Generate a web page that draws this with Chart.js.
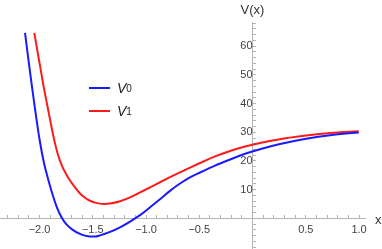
<!DOCTYPE html>
<html>
<head>
<meta charset="utf-8">
<script src="https://cdn.jsdelivr.net/npm/chart.js@4.4.1/dist/chart.umd.min.js"></script>
<style>
  html, body { margin: 0; padding: 0; background: #fff; }
  #wrap { position: relative; width: 382px; height: 249px; }
  .leg { position: absolute; left: 89px; height: 16px; display: flex; align-items: center;
         font-family: "Liberation Sans", Arial, sans-serif; font-size: 14px; color: #222; }
  .leg .ln { width: 21px; height: 2px; margin-right: 7px; }
  .leg i { font-style: italic; }
  .leg sub { font-size: 10px; vertical-align: -3px; }
</style>
</head>
<body>
<div id="wrap">
  <canvas id="chart" width="382" height="249"></canvas>
  <div class="leg" style="top:80px"><span class="ln" style="background:#1a1aff"></span><i>V</i><sub>0</sub></div>
  <div class="leg" style="top:103px"><span class="ln" style="background:#ff1a1a"></span><i>V</i><sub>1</sub></div>
</div>
<script>
// data
const v0X = [-2.136, -2.108, -2.073, -2.042, -2.002, -1.958, -1.917, -1.873, -1.836, -1.792, -1.751, -1.695, -1.620, -1.573, -1.526, -1.479, -1.432, -1.338, -1.244, -1.150, -1.056, -0.962, -0.869, -0.775, -0.681, -0.587, -0.493, -0.352, -0.211, -0.070, 0.070, 0.258, 0.502, 0.728, 0.997];
const v0Y = [64.6, 56.4, 46.5, 38.1, 28.0, 19.3, 13.4, 7.8, 3.8, 0.35, -1.9, -3.8, -5.4, -6.0, -6.3, -6.3, -5.9, -4.7, -3.1, -1.1, 1.15, 3.9, 6.7, 9.6, 12.15, 14.3, 16.0, 18.4, 20.5, 22.5, 24.1, 25.9, 27.75, 29.0, 29.9];
const v1X = [-2.049, -1.964, -1.915, -1.864, -1.826, -1.789, -1.751, -1.714, -1.667, -1.620, -1.573, -1.526, -1.479, -1.432, -1.394, -1.338, -1.244, -1.150, -1.056, -0.962, -0.869, -0.775, -0.681, -0.587, -0.493, -0.352, -0.211, -0.070, 0.070, 0.258, 0.502, 0.728, 0.997];
const v1Y = [64.6, 46.5, 37.1, 27.7, 22.1, 18.3, 15.5, 13.2, 10.8, 8.7, 7.2, 6.15, 5.5, 5.15, 5.05, 5.2, 6.0, 7.3, 9.05, 10.8, 12.6, 14.35, 16.05, 17.7, 19.3, 21.6, 23.5, 25.05, 26.3, 27.6, 28.85, 29.75, 30.35];

const xMin = -2.371, xMax = 1.056;
const yMin = -10.3, yMax = 68.4;

function pts(xs, ys) {
  return xs.map((x, i) => ({ x: x, y: ys[i] }));
}

const axisLabels = {
  id: 'axisLabels',
  afterDraw(chart) {
    const ctx = chart.ctx;
    const xs = chart.scales.x, ys = chart.scales.y;
    ctx.save();
    ctx.fillStyle = '#333';
    ctx.font = '13px "Liberation Sans", Arial, sans-serif';
    ctx.textAlign = 'center';
    ctx.textBaseline = 'middle';
    ctx.fillText('V(x)', xs.getPixelForValue(0), chart.chartArea.top - 12);
    ctx.textAlign = 'left';
    ctx.fillText('x', chart.chartArea.right + 10, ys.getPixelForValue(0) + 2);
    ctx.restore();
  }
};

const fmt = v => (v < 0 ? '\u2212' : '') + Math.abs(v).toFixed(1);

// axes sit on the origin, so they should not eat any room
function noRoom(s) {
  if (s.isHorizontal()) s.height = 0; else s.width = 0;
  s.paddingTop = 0; s.paddingBottom = 0; s.paddingLeft = 0; s.paddingRight = 0;
}

new Chart(document.getElementById('chart'), {
  type: 'line',
  data: {
    datasets: [
      { label: 'V0', data: pts(v0X, v0Y), borderColor: '#1a1aff', borderWidth: 2, pointRadius: 0, cubicInterpolationMode: 'monotone', fill: false },
      { label: 'V1', data: pts(v1X, v1Y), borderColor: '#ff1a1a', borderWidth: 2, pointRadius: 0, cubicInterpolationMode: 'monotone', fill: false }
    ]
  },
  options: {
    responsive: false,
    animation: false,
    layout: { padding: { left: 0, right: 17, top: 22, bottom: 1 } },
    plugins: { legend: { display: false }, tooltip: { enabled: false } },
    scales: {
      x: {
        type: 'linear', min: xMin, max: xMax,
        position: { y: 0 },
        afterFit: noRoom,
        border: { color: '#b5b5b5', width: 1 },
        grid: { drawOnChartArea: false, drawTicks: true, tickLength: -4, tickColor: '#b5b5b5' },
        ticks: {
          stepSize: 0.1, includeBounds: false, autoSkip: false, maxRotation: 0, padding: 9,
          color: '#444', font: { family: '"Liberation Sans", Arial, sans-serif', size: 11 },
          callback: v => {
            const h = Math.round(v * 2);
            if (Math.abs(v * 2 - h) > 1e-6 || h === 0) return '';
            return fmt(h / 2);
          }
        }
      },
      y: {
        type: 'linear', min: yMin, max: yMax,
        position: { x: 0 },
        afterFit: noRoom,
        border: { color: '#b5b5b5', width: 1 },
        grid: { drawOnChartArea: false, drawTicks: true, tickLength: -4, tickColor: '#b5b5b5' },
        ticks: {
          stepSize: 2, includeBounds: false, autoSkip: false, padding: 7,
          color: '#444', font: { family: '"Liberation Sans", Arial, sans-serif', size: 11 },
          callback: v => {
            const r = Math.round(v);
            if (r > 0 && r % 10 === 0 && Math.abs(v - r) < 1e-6) return String(r);
            return '';
          }
        }
      }
    }
  },
  plugins: [axisLabels]
});
</script>
</body>
</html>
